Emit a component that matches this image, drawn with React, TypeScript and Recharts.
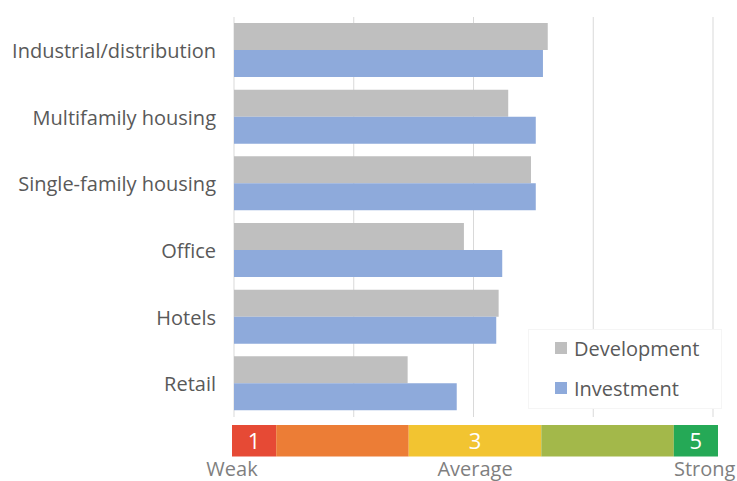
import { BarChart, Bar, XAxis, YAxis, CartesianGrid, Legend, LabelList } from "recharts";

const categories = [
  "Industrial/distribution",
  "Multifamily housing",
  "Single-family housing",
  "Office",
  "Hotels",
  "Retail",
];
const development = [3.62, 3.29, 3.48, 2.92, 3.21, 2.45];
const investment = [3.58, 3.52, 3.52, 3.24, 3.19, 2.86];

const scoreTicks = [1, 2, 3, 4, 5];

// colour key under the chart
const scaleWeights = [1, 3, 3, 3, 1];
const scaleNumbers = ["1", "", "3", "", "5"];
const scaleColors = ["#e64a35", "#ec7d36", "#f2c431", "#a3b84a", "#25a956"];
const scaleWords = ["Weak", "Average", "Strong"];
const scaleWordAt = [0, 5.5, 10.7];

const FONT = "'Open Sans', 'Noto Sans', sans-serif";
const TEXT = "#595959";

const chartData = categories.map((name, i) => ({
  name,
  development: development[i],
  investment: investment[i],
}));

const scaleRow = [
  Object.fromEntries(scaleWeights.map((w, i) => [`s${i}`, w])),
];

interface TickProps {
  x?: number;
  y?: number;
  payload?: { value: string | number };
}

const CategoryTick = ({ x = 0, y = 0, payload }: TickProps) => (
  <text
    x={x - 10}
    y={y}
    textAnchor="end"
    dominantBaseline="central"
    fill={TEXT}
    fontSize={20}
    fontFamily={FONT}
  >
    {payload?.value}
  </text>
);

const ScaleWordTick = ({ x = 0, y = 0, payload }: TickProps) => {
  const idx = scaleWordAt.indexOf(Number(payload?.value));
  return (
    <text
      x={x}
      y={y + 18}
      textAnchor="middle"
      fill="#7f7f7f"
      fontSize={20}
      fontFamily={FONT}
    >
      {scaleWords[idx]}
    </text>
  );
};

const LegendBox = () => (
  <div
    style={{
      width: 194,
      height: 80,
      boxSizing: "border-box",
      background: "#fff",
      border: "1px solid #f5f5f5",
      fontFamily: FONT,
      fontSize: 20,
      color: TEXT,
    }}
  >
    <div style={{ position: "relative", top: -2 }}>
      {[
        { label: "Development", color: "#bfbfbf" },
        { label: "Investment", color: "#8eaadb" },
      ].map((item) => (
        <div
          key={item.label}
          style={{ height: 40, display: "flex", alignItems: "center", paddingLeft: 26 }}
        >
          <span
            style={{
              width: 12,
              height: 12,
              background: item.color,
              display: "inline-block",
              marginRight: 7,
            }}
          />
          <span>{item.label}</span>
        </div>
      ))}
    </div>
  </div>
);

export default function App() {
  return (
    <div style={{ position: "absolute", left: 0, top: 0, width: 737, height: 481, background: "#fff" }}>
      <div style={{ position: "absolute", left: 0, top: 0 }}>
        <BarChart
          width={737}
          height={420}
          data={chartData}
          layout="vertical"
          margin={{ top: 17, right: 24, bottom: 3, left: 0 }}
          barGap={0}
        >
          <CartesianGrid horizontal={false} stroke="#d9d9d9" />
          <XAxis
            type="number"
            domain={[1, 5]}
            ticks={scoreTicks}
            allowDataOverflow
            hide
          />
          <YAxis
            type="category"
            dataKey="name"
            width={234}
            axisLine={false}
            tickLine={false}
            tick={<CategoryTick />}
            interval={0}
          />
          <Legend
            layout="horizontal"
            align="center"
            verticalAlign="middle"
            content={<LegendBox />}
            wrapperStyle={{ left: 528, top: 329, width: 194, height: 80 }}
          />
          <Bar dataKey="development" fill="#bfbfbf" barSize={27} isAnimationActive={false} />
          <Bar dataKey="investment" fill="#8eaadb" barSize={27} isAnimationActive={false} />
        </BarChart>
      </div>
      <div style={{ position: "absolute", left: 0, top: 418 }}>
        <BarChart
          width={737}
          height={70}
          data={scaleRow}
          layout="vertical"
          margin={{ top: 5, right: 19, bottom: 0, left: 232 }}
          barCategoryGap={0}
        >
          <XAxis
            type="number"
            domain={[0, 11]}
            ticks={scaleWordAt}
            axisLine={false}
            tickLine={false}
            tickSize={0}
            tickMargin={0}
            height={30}
            tick={<ScaleWordTick />}
            interval={0}
          />
          <YAxis type="category" hide />
          {scaleWeights.map((_, i) => (
            <Bar
              key={i}
              dataKey={`s${i}`}
              stackId="scale"
              fill={scaleColors[i]}
              barSize={35}
              isAnimationActive={false}
            >
              <LabelList
                position="center"
                formatter={() => scaleNumbers[i]}
                fill="#fff"
                fontSize={22}
                fontFamily={FONT}
              />
            </Bar>
          ))}
        </BarChart>
      </div>
    </div>
  );
}
